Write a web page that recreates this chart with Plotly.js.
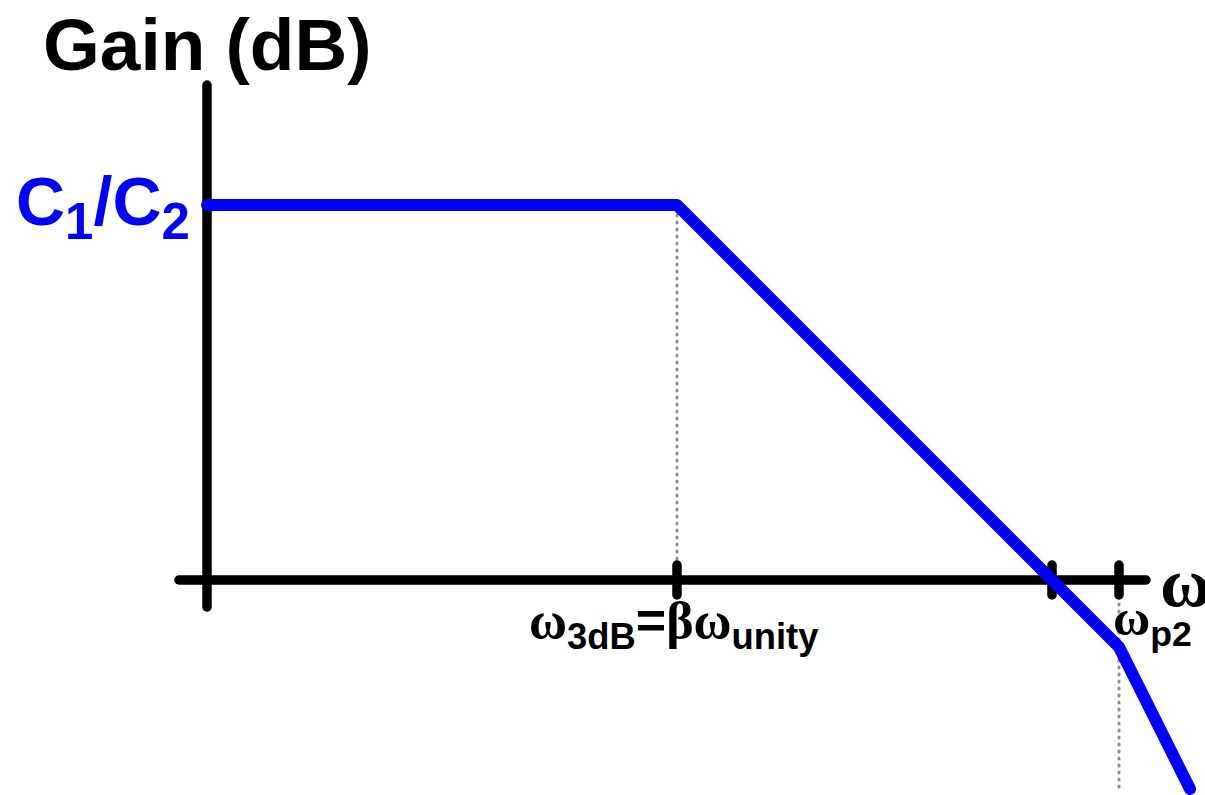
<!DOCTYPE html>
<html>
<head>
<meta charset="utf-8">
<script src="https://cdn.plot.ly/plotly-3.0.1.min.js"></script>
<style>
html, body { margin: 0; padding: 0; background: #fff; }
#chart { width: 1205px; height: 795px; }
.js-line { stroke-linecap: round; stroke-linejoin: round; }
</style>
</head>
<body>
<div id="chart"></div>
<script>
// Conceptual Bode-plot units: x = log-frequency (axis origin at 0), y = gain (0 dB at the omega axis)
const gainAxisX = [0, 0];
const gainAxisY = [-27, 495];
const omegaAxisX = [-28, 939];
const omegaAxisY = [0, 0];
const tickOmega = [470, 845, 912];     // omega_3dB, omega_unity, omega_p2
const tickHalf = 15;
const responseX = [0, 470, 912, 983];
const responseY = [375, 375, -67, -209];
const guide3dbX = [470, 470];
const guide3dbY = [372, 17];
const guideP2X = [912, 912];
const guideP2Y = [-17, -210];

const xRange = [-207, 998];
const yRange = [-215, 580];

const black = '#000000';
const blue = '#0000ff';
const gray = '#8c8c8c';

const traces = [];
traces.push({x: guide3dbX, y: guide3dbY, mode: 'lines', line: {color: gray, width: 3, dash: '1px,6px'}, hoverinfo: 'skip'});
traces.push({x: guideP2X, y: guideP2Y, mode: 'lines', line: {color: gray, width: 3, dash: '1px,6px'}, hoverinfo: 'skip'});
traces.push({x: gainAxisX, y: gainAxisY, mode: 'lines', line: {color: black, width: 9.5}, hoverinfo: 'skip'});
traces.push({x: omegaAxisX, y: omegaAxisY, mode: 'lines', line: {color: black, width: 9.5}, hoverinfo: 'skip'});
tickOmega.forEach(t => {
  traces.push({x: [t, t], y: [-tickHalf, tickHalf], mode: 'lines', line: {color: black, width: 9.5}, hoverinfo: 'skip'});
});
traces.push({x: responseX, y: responseY, mode: 'lines', line: {color: blue, width: 12}, hoverinfo: 'skip'});

const fam = 'Liberation Sans, Arial, sans-serif';
const gk = s => '<span style="font-family:Liberation Serif;font-weight:bold">' + s + '</span>';

const annotations = [
  {x: 0, y: 536, text: '<b>Gain (dB)</b>', showarrow: false, xanchor: 'center', yanchor: 'middle',
   font: {family: fam, size: 73, color: black}},
  {x: -15, y: 374, text: '<b>C<sub><span style="font-size:51px">1</span></sub>/C<sub><span style="font-size:51px">2</span></sub></b>', showarrow: false, xanchor: 'right', yanchor: 'middle',
   font: {family: fam, size: 68, color: blue}},
  {x: 467, y: -44, text: gk('ω') + '<b><sub>3dB</sub>=</b>' + gk('βω') + '<b><sub>unity</sub></b>', showarrow: false, xanchor: 'center', yanchor: 'middle',
   font: {family: fam, size: 52, color: black}},
  {x: 951, y: -2, text: gk('ω'), showarrow: false, xanchor: 'left', yanchor: 'middle',
   font: {family: fam, size: 70, color: black}},
  {x: 904, y: -42, text: gk('ω') + '<b><sub>p2</sub></b>', showarrow: false, xanchor: 'left', yanchor: 'middle',
   font: {family: fam, size: 51, color: black}}
];

const layout = {
  width: 1205, height: 795,
  margin: {l: 0, r: 0, t: 0, b: 0, pad: 0},
  paper_bgcolor: '#ffffff', plot_bgcolor: '#ffffff',
  showlegend: false,
  xaxis: {range: xRange, visible: false, fixedrange: true},
  yaxis: {range: yRange, visible: false, fixedrange: true},
  annotations: annotations
};

Plotly.newPlot('chart', traces, layout, {staticPlot: true, displayModeBar: false});
</script>
</body>
</html>
